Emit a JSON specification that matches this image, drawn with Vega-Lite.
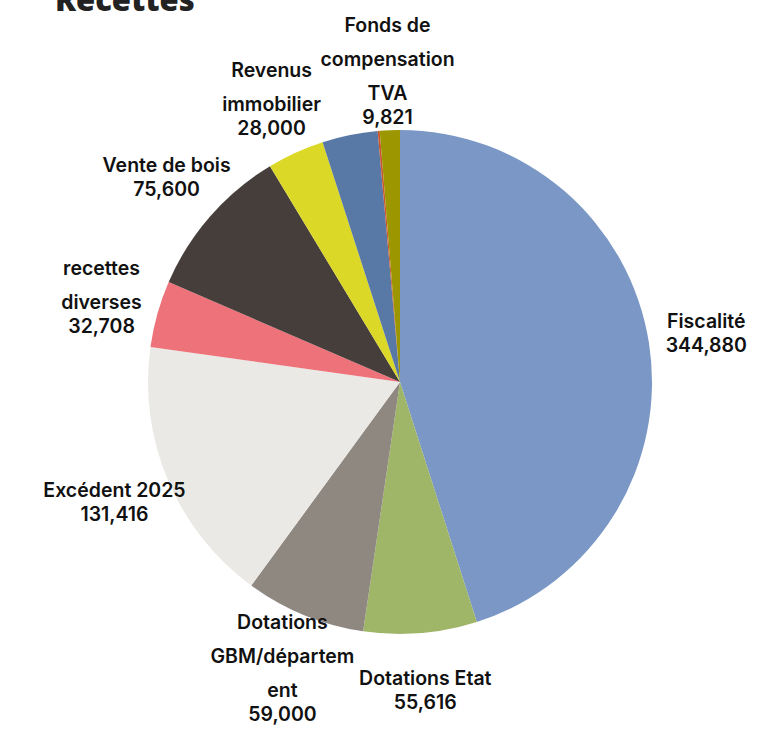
{
  "$schema": "https://vega.github.io/schema/vega-lite/v6.json",
  "width": 722,
  "height": 724,
  "autosize": {"type": "none"},
  "padding": {"left": 39, "top": 20, "right": 0, "bottom": 0},
  "background": "white",
  "title": {
    "text": "Recettes",
    "anchor": "start",
    "dx": 16,
    "offset": -2,
    "fontSize": 31,
    "font": "Open Sans",
    "fontWeight": 800,
    "color": "#222222"
  },
  "data": {
    "values": [
      {"i": 1, "categorie": "Fiscalité", "lignes": ["Fiscalité"], "montant": 344880},
      {"i": 2, "categorie": "Dotations Etat", "lignes": ["Dotations Etat"], "montant": 55616},
      {"i": 3, "categorie": "Dotations GBM/département", "lignes": ["Dotations", "GBM/départem", "ent"], "montant": 59000},
      {"i": 4, "categorie": "Excédent 2025", "lignes": ["Excédent 2025"], "montant": 131416},
      {"i": 5, "categorie": "recettes diverses", "lignes": ["recettes", "diverses"], "montant": 32708},
      {"i": 6, "categorie": "Vente de bois", "lignes": ["Vente de bois"], "montant": 75600},
      {"i": 7, "categorie": "Revenus immobilier", "lignes": ["Revenus", "immobilier"], "montant": 28000},
      {"i": 8, "categorie": "Autres produits", "lignes": [""], "montant": 27200},
      {"i": 9, "categorie": "Autres", "lignes": [""], "montant": 1000},
      {"i": 10, "categorie": "Fonds de compensation TVA", "lignes": ["Fonds de", "compensation", "TVA"], "montant": 9821}
    ]
  },
  "encoding": {
    "theta": {"field": "montant", "type": "quantitative", "stack": true},
    "order": {"field": "i", "type": "quantitative"}
  },
  "layer": [
    {
      "mark": {"type": "arc", "radius": 252},
      "encoding": {
        "color": {
          "field": "categorie",
          "type": "nominal",
          "legend": null,
          "scale": {
            "domain": ["Fiscalité", "Dotations Etat", "Dotations GBM/département", "Excédent 2025", "recettes diverses", "Vente de bois", "Revenus immobilier", "Autres produits", "Autres", "Fonds de compensation TVA"],
            "range": ["#7a97c5", "#9fb567", "#8f8881", "#ebe9e5", "#ee727a", "#463e3b", "#dcd827", "#5878a6", "#c9562c", "#9c9600"]
          }
        }
      }
    },
    {
      "mark": {"type": "text", "radius": 310, "baseline": "middle", "align": "center", "lineHeight": 34, "dy": {"expr": "-(34 * (length(datum.lignes) - 1) + 24) / 2"}, "font": "Inter", "fontSize": 19.5, "fontWeight": 600, "color": "#111111"},
      "encoding": {
        "text": {"field": "lignes"}
      }
    },
    {
      "mark": {"type": "text", "radius": 310, "baseline": "middle", "align": "center", "dy": {"expr": "(34 * (length(datum.lignes) - 1) + 24) / 2"}, "font": "Inter", "fontSize": 19.5, "fontWeight": 600, "color": "#111111"},
      "encoding": {
        "text": {"field": "montant", "type": "quantitative", "format": ","},
        "opacity": {"condition": {"test": "datum.lignes[0] == ''", "value": 0}, "value": 1}
      }
    }
  ]
}
